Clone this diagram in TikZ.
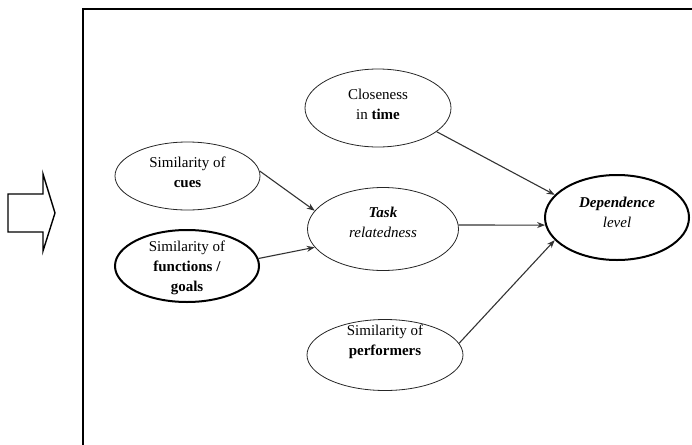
\documentclass[tikz,border=0pt]{standalone}
\usepackage{fontspec}
\setmainfont{Liberation Serif}
\usetikzlibrary{shapes.geometric,arrows.meta}
\begin{document}
\begin{tikzpicture}[x=1pt,y=-1pt,
  oval/.style={draw=black!85,line width=0.8pt,ellipse,inner sep=0pt,
    minimum width=#1},
  thickoval/.style={oval=#1,line width=2pt,draw=black},
  txt/.style={font=\fontsize{15}{20}\selectfont,align=center,inner sep=0pt},
  link/.style={line width=1.1pt,draw=black!80,-{Stealth[length=8pt,width=6pt]}},
  bigarrow/.style={draw=black,line width=1.4pt,line join=miter}
]
\useasboundingbox (0,0) rectangle (692,444);
\clip (0,0) rectangle (692,444);

% frame (runs off to the right and bottom)
\draw[line width=1.8pt] (83,470) -- (83,9) -- (720,9);

% outline block arrow on the left
\draw[bigarrow] (8,194) -- (43,194) -- (43,174) -- (55,213) -- (43,251)
  -- (43,232) -- (8,232) -- cycle;

% ovals
\node[oval=146pt,minimum height=78pt] (clos) at (378,108) {};
\node[oval=145pt,minimum height=68pt] (cues) at (187.5,176) {};
\node[thickoval=144pt,minimum height=72pt] (func) at (187,266) {};
\node[oval=151pt,minimum height=83pt] (task) at (383,229) {};
\node[thickoval=144pt,minimum height=85pt] (dep) at (617,217.5) {};
\node[oval=156pt,minimum height=71pt] (perf) at (385,355) {};

% labels
\node[txt] (closT) at (378,104) {Closeness\\in \textbf{time}};
\node[txt] (cuesT) at (187.5,172) {Similarity of\\\textbf{cues}};
\node[txt] (funcT) at (187,268) {Similarity of\\\textbf{functions /}\\\textbf{goals}};
\node[txt] (taskT) at (383,222) {\textbf{\textit{Task}}\\\textit{relatedness}};
\node[txt] (depT) at (617,212) {\textbf{\textit{Dependence}}\\\textit{level}};
\node[txt] (perfT) at (385,342) {Similarity of\\\textbf{performers}};

% connectors
\draw[link] (cues.4) -- (task.165);
\draw[link] (func.6) -- (task.195);
\draw[link] (clos.-22) -- (dep.160);
\draw[link] (task.3) -- (dep.186);
\draw[link] (perf.9) -- (dep.200);
\end{tikzpicture}
\end{document}
